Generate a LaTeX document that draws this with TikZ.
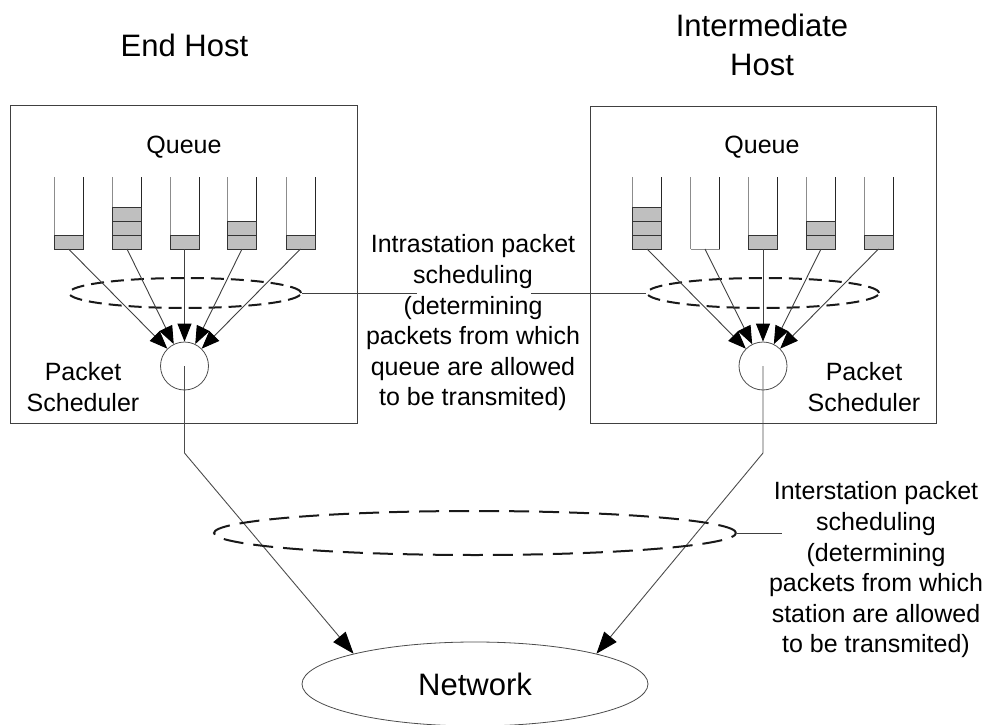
\documentclass[tikz,border=0pt]{standalone}
\usepackage{fontspec}
\setmainfont{Liberation Sans}
\usetikzlibrary{arrows.meta,shapes.geometric}

% one queue column: bottom coordinate name, x of its centre, number of packets
\newcommand{\packetqueue}[3]{%
  \coordinate (#1) at (#2,249);
  \draw[wallL] ({#2-14.5},177) -- ({#2-14.5},249);
  \draw[wallR] ({#2+14.5},177) -- ({#2+14.5},249);
  \ifnum#3>0
    \foreach \k in {1,...,#3}{%
      \draw[pkt] ({#2-14.5},{249-14*(\k-1)}) rectangle ({#2+14.5},{249-14*\k});}
  \else
    \draw[wallL] ({#2-14.5},249) -- ({#2+14.5},249);
  \fi
}

\begin{document}
\begin{tikzpicture}[x=1pt,y=-1pt,
  hostbox/.style={draw=black!75, line width=1.2pt, rectangle, inner sep=0pt},
  wallL/.style={draw=black!45, line width=1pt},
  wallR/.style={draw=black!85, line width=1pt},
  pkt/.style={draw=black!80, fill=black!25, line width=1pt},
  feed/.style={draw=black!75, line width=0.9pt, -{Triangle[length=18pt,width=14pt,color=black]}},
  uplink/.style={draw=black!70, line width=0.9pt, -{Triangle[length=22pt,width=16pt,color=black]}},
  thinline/.style={draw=black!75, line width=0.9pt},
  sched/.style={circle, draw=black!70, line width=0.8pt, minimum size=48pt, inner sep=0pt},
  dashring/.style={ellipse, draw=black!90, line width=2pt, dash pattern=on 13pt off 7pt, inner sep=0pt},
  lbl/.style={font=\fontsize{25}{30.6}\selectfont, align=center, inner sep=0pt},
  title/.style={font=\fontsize{31}{39}\selectfont, align=center, inner sep=0pt},
  ]
\useasboundingbox (0,0) rectangle (989,725);

% host frames
\node[hostbox, minimum width=347pt, minimum height=318pt, anchor=north west] (endbox) at (10,105) {};
\node[hostbox, minimum width=346pt, minimum height=317pt, anchor=north west] (midbox) at (590,106) {};

% titles
\node[title] (endtitle) at (184.5,45) {End Host};
\node[title] (midtitle) at (762,45) {Intermediate\\Host};
\node[lbl] (lqueue) at (184,147) {Queue};
\node[lbl] (rqueue) at (762,147) {Queue};

% queues
\packetqueue{lq1}{68.5}{1}
\packetqueue{lq2}{127}{3}
\packetqueue{lq3}{184.5}{1}
\packetqueue{lq4}{242}{2}
\packetqueue{lq5}{300.5}{1}
\packetqueue{rq1}{647}{3}
\packetqueue{rq2}{705}{0}
\packetqueue{rq3}{763}{1}
\packetqueue{rq4}{821}{2}
\packetqueue{rq5}{878.5}{1}

% schedulers
\node[sched] (lsched) at (184.5,366) {};
\node[sched] (rsched) at (763,366) {};
\node[lbl] (lsname) at (83,387) {Packet\\Scheduler};
\node[lbl] (rsname) at (864,387) {Packet\\Scheduler};

% intrastation rings
\node[dashring, minimum width=232pt, minimum height=30pt] (lring) at (185,293) {};
\node[dashring, minimum width=232pt, minimum height=30pt] (rring) at (763,293) {};

\foreach \q in {lq1,lq2,lq3,lq4,lq5} {\draw[feed] (\q) -- (lsched);}
\foreach \q in {rq1,rq2,rq3,rq4,rq5} {\draw[feed] (\q) -- (rsched);}

% intrastation label and its leader
\node[lbl] (intra) at (473,323) {Intrastation packet\\scheduling\\(determining\\packets from which\\queue are allowed\\to be transmited)};
\coordinate (gapL) at (417,293);
\coordinate (gapR) at (531,293);
\draw[thinline] (lring.east) -- (gapL);
\draw[thinline] (gapR) -- (rring.west);

% network
\node[ellipse, draw=black!70, line width=0.8pt, minimum width=346pt, minimum height=84pt,
      inner sep=0pt, font=\fontsize{31}{36}\selectfont] (net) at (475,684) {Network};

\coordinate (lbend) at (184.5,453);
\coordinate (rbend) at (763,453);
\draw[uplink] (lsched.center) -- (lbend) -- (net.166);
\draw[uplink] (rsched.center) -- (rbend) -- (net.14);

% interstation ring, label and leader
\node[dashring, minimum width=522pt, minimum height=44pt, dash pattern=on 20pt off 10pt] (iring) at (475,533) {};
\coordinate (iend) at (782,533);
\draw[thinline] (iring.east) -- (iend);
\node[lbl] (inter) at (876,570) {Interstation packet\\scheduling\\(determining\\packets from which\\station are allowed\\to be transmited)};
\end{tikzpicture}
\end{document}
